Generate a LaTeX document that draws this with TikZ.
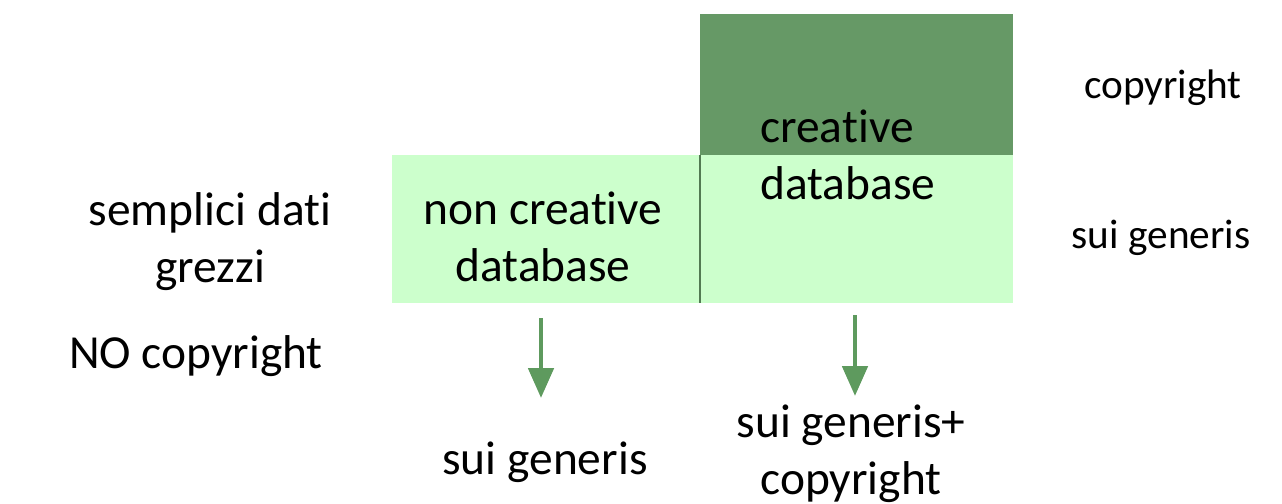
\documentclass[tikz,border=0pt]{standalone}
\usepackage{fontspec}
\setmainfont{Carlito}[Ligatures=NoCommon]
\usetikzlibrary{arrows.meta}
\definecolor{lightgreen}{HTML}{CCFFCC}
\definecolor{darkgreen}{HTML}{669966}
\definecolor{arrowgreen}{HTML}{5E9A5E}
\tikzset{
  label text/.style={font=\fontsize{27}{32.5}\selectfont, align=center, inner sep=0pt},
  side text/.style={font=\fontsize{23.5}{28}\selectfont, inner sep=0pt},
  area/.style={inner sep=0pt, minimum height=2.96cm},
  down arrow/.style={arrowgreen, line width=2.8pt, -{Triangle[width=0.5cm,length=0.6cm]}}
}
\begin{document}
\begin{tikzpicture}[x=0.02cm,y=-0.02cm]
            \useasboundingbox (0,0) rectangle (1282,504);
            % boxes
            \node[area, fill=lightgreen, minimum width=6.16cm] (ncbox) at (546,229) {};
            \node[area, fill=lightgreen, minimum width=6.26cm] (cbox) at (856.5,229) {};
            \node[inner sep=0pt, fill=darkgreen, minimum width=6.26cm, minimum height=2.82cm] (copybox) at (856.5,84.5) {};
            \draw[darkgreen!80!black, line width=1pt] (ncbox.north east) -- (ncbox.south east);

            % texts
            \node[label text] (raw) at (210,242) {semplici dati\\grezzi};
            \node[label text] (noncreative) at (543,237) {non creative\\database};
            \node[label text, align=left, anchor=west] (creative) at (760,155) {creative\\database};
            \node[side text] (copy) at (1163,88) {copyright};
            \node[side text] (suiright) at (1161,238) {sui generis};
            \node[label text] (nocopy) at (196,356) {NO copyright};
            \node[label text] (suileft) at (545,462) {sui generis};
            \node[label text] (suicopy) at (851,454) {sui generis+\\copyright};

            % arrows
            \coordinate (a1) at (541,318);
            \coordinate (b1) at (541,398);
            \coordinate (a2) at (855,315);
            \coordinate (b2) at (855,396);
            \draw[down arrow] (a1) -- (b1);
            \draw[down arrow] (a2) -- (b2);
\end{tikzpicture}
\end{document}
